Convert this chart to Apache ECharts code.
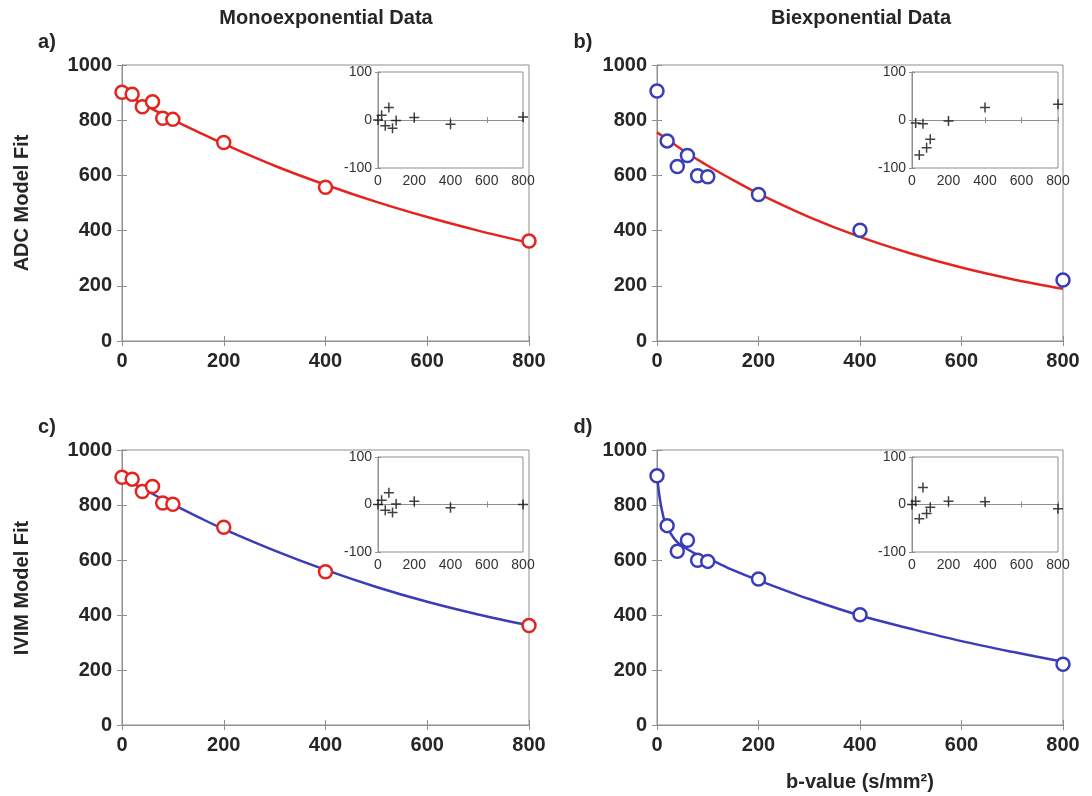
<!DOCTYPE html>
<html>
<head>
<meta charset="utf-8">
<script src="https://cdn.jsdelivr.net/npm/echarts@6/dist/echarts.min.js"></script>
<style>html,body{margin:0;padding:0;background:#fff;}#chart{width:1092px;height:796px;}</style>
</head>
<body>
<div id="chart"></div>
<script>
// ---- data ----
const bValues = [0, 20, 40, 60, 80, 100, 200, 400, 800];
const monoSignal = [901, 894, 849, 867, 807, 803, 719, 557, 362];
const biexpSignal = [906, 725, 632, 672, 599, 595, 531, 401, 221];

const curveBMono = [0, 50, 100, 150, 200, 300, 400, 500, 600, 700, 800];
const adcFitMono = [901, 850, 801, 757, 714, 635, 566, 504, 449, 400, 356];
const ivimFitMono = [901, 850, 802, 756, 712, 634, 564, 502, 448, 402, 362];

const curveBAdcBi = [0, 20, 40, 60, 80, 100, 150, 200, 300, 400, 500, 600, 700, 800];
const adcFitBi = [756, 731, 705, 680, 657, 635, 583, 534, 449, 377, 317, 266, 224, 189];

const curveBIvimBi = [0, 5, 10, 15, 20, 30, 40, 60, 80, 100, 150, 200, 300, 400, 500, 600, 700, 800];
const ivimFitBi = [909, 830, 778, 740, 718, 688, 665, 639, 619, 606, 563, 526, 458, 398, 350, 305, 266, 230];

const residA = [0, 10, -12, 26, -17, -1, 5, -9, 6];
const residB = [150, -6, -73, -8, -58, -40, -2, 26, 33];
const residC = [0, 9, -12, 25, -17, 1, 7, -7, 0];
const residD = [0, 7, -30, 36, -19, -6, 7, 6, -9];

const colTitles = ['Monoexponential Data', 'Biexponential Data'];
const rowTitles = ['ADC Model Fit', 'IVIM Model Fit'];
const panelLetters = ['a)', 'b)', 'c)', 'd)'];
const xAxisTitle = 'b-value (s/mm\u00B2)';

// ---- styling ----
const RED = '#e3241f';
const BLUE = '#3a3db8';
const GRAY = '#8f8f8f';
const TXT = '#262626';
const FONT = '"Liberation Sans", Arial, Helvetica, sans-serif';

const chart = echarts.init(document.getElementById('chart'), null, {renderer: 'canvas'});

const pairs = (xs, ys) => xs.map((x, i) => [x, ys[i]]);
const plain = v => String(v);

const grids = [
  {left: 122, top: 65, width: 407, height: 276},
  {left: 657, top: 65, width: 406, height: 276},
  {left: 122, top: 450, width: 407, height: 275},
  {left: 657, top: 450, width: 406, height: 275},
  {left: 378, top: 72, width: 145, height: 96},
  {left: 912, top: 72, width: 146, height: 96},
  {left: 378, top: 457, width: 145, height: 95},
  {left: 912, top: 457, width: 146, height: 95}
].map((g, i) => Object.assign({show: true, borderColor: GRAY, borderWidth: 1,
  backgroundColor: '#fff', containLabel: false, z: i >= 4 ? 5 : 0}, g));

const xAxes = [], yAxes = [];
grids.forEach((g, i) => {
  const inset = i >= 4;
  const lab = inset
    ? {show: true, fontSize: 14, color: '#333', fontFamily: FONT, margin: 6, formatter: plain}
    : {show: true, fontSize: 20, fontWeight: 'bold', color: TXT, fontFamily: FONT, margin: 10, formatter: plain};
  const tick = {show: true, inside: true, length: inset ? 3 : 5, lineStyle: {color: GRAY}};
  const line = {show: true, lineStyle: {color: GRAY, width: 1}};
  const z = inset ? 6 : 1;
  const xBase = {type: 'value', gridIndex: i, min: 0, max: 800, interval: 200,
    splitLine: {show: false}, axisLine: line, axisTick: tick, z: z};
  xAxes.push(Object.assign({}, xBase, {position: 'bottom', axisLabel: Object.assign({}, lab, {showMaxLabel: true, showMinLabel: true})}));
  xAxes.push(Object.assign({}, xBase, {position: 'top', axisLabel: {show: false}}));
  const yBase = inset
    ? {min: -100, max: 100, interval: 100}
    : {min: 0, max: 1000, interval: 200};
  const yB = Object.assign({type: 'value', gridIndex: i, splitLine: {show: false},
    axisLine: line, axisTick: tick, z: z}, yBase);
  yAxes.push(Object.assign({}, yB, {position: 'left', axisLabel: lab}));
  yAxes.push(Object.assign({}, yB, {position: 'right', axisLabel: {show: false}}));
});

function fitLine(g, xs, ys, color) {
  return {type: 'line', xAxisIndex: 2 * g, yAxisIndex: 2 * g, data: pairs(xs, ys),
    smooth: 0.35, showSymbol: false, symbol: 'none',
    lineStyle: {color: color, width: 2.5}, z: 2, silent: true};
}
function circles(g, ys, color) {
  return {type: 'scatter', xAxisIndex: 2 * g, yAxisIndex: 2 * g, data: pairs(bValues, ys),
    symbol: 'circle', symbolSize: 13,
    itemStyle: {color: '#fff', borderColor: color, borderWidth: 2.5, opacity: 1}, z: 3, silent: true};
}
function residuals(g, ys) {
  return {type: 'scatter', xAxisIndex: 2 * g, yAxisIndex: 2 * g, data: pairs(bValues, ys),
    symbol: 'path://M0,5 L10,5 M5,0 L5,10', symbolSize: 10, clip: true,
    itemStyle: {color: 'none', borderColor: '#111', borderWidth: 1.5}, z: 7, silent: true,
    markLine: {silent: true, symbol: 'none', label: {show: false},
      lineStyle: {color: '#9a9a9a', type: [2, 2], width: 1}, data: [{yAxis: 0}], z: 6}};
}

const series = [
  fitLine(0, curveBMono, adcFitMono, RED), circles(0, monoSignal, RED),
  fitLine(1, curveBAdcBi, adcFitBi, RED), circles(1, biexpSignal, BLUE),
  fitLine(2, curveBMono, ivimFitMono, BLUE), circles(2, monoSignal, RED),
  fitLine(3, curveBIvimBi, ivimFitBi, BLUE), circles(3, biexpSignal, BLUE),
  residuals(4, residA), residuals(5, residB), residuals(6, residC), residuals(7, residD)
];

const boldText = (t, x, y, extra) => Object.assign({type: 'text', x: x, y: y, z: 100,
  style: {text: t, fill: TXT, font: 'bold 20px ' + FONT, textAlign: 'center', textVerticalAlign: 'middle'}}, extra || {});

const graphic = [
  boldText(colTitles[0], 326, 18),
  boldText(colTitles[1], 861, 18),
  boldText(panelLetters[0], 47, 42),
  boldText(panelLetters[1], 583, 42),
  boldText(panelLetters[2], 47, 427),
  boldText(panelLetters[3], 583, 427),
  boldText(rowTitles[0], 22, 203, {rotation: Math.PI / 2}),
  boldText(rowTitles[1], 22, 588, {rotation: Math.PI / 2}),
  boldText(xAxisTitle, 860, 782)
];

chart.setOption({
  animation: false,
  backgroundColor: '#fff',
  grid: grids,
  xAxis: xAxes,
  yAxis: yAxes,
  series: series,
  graphic: graphic
});
</script>
</body>
</html>
